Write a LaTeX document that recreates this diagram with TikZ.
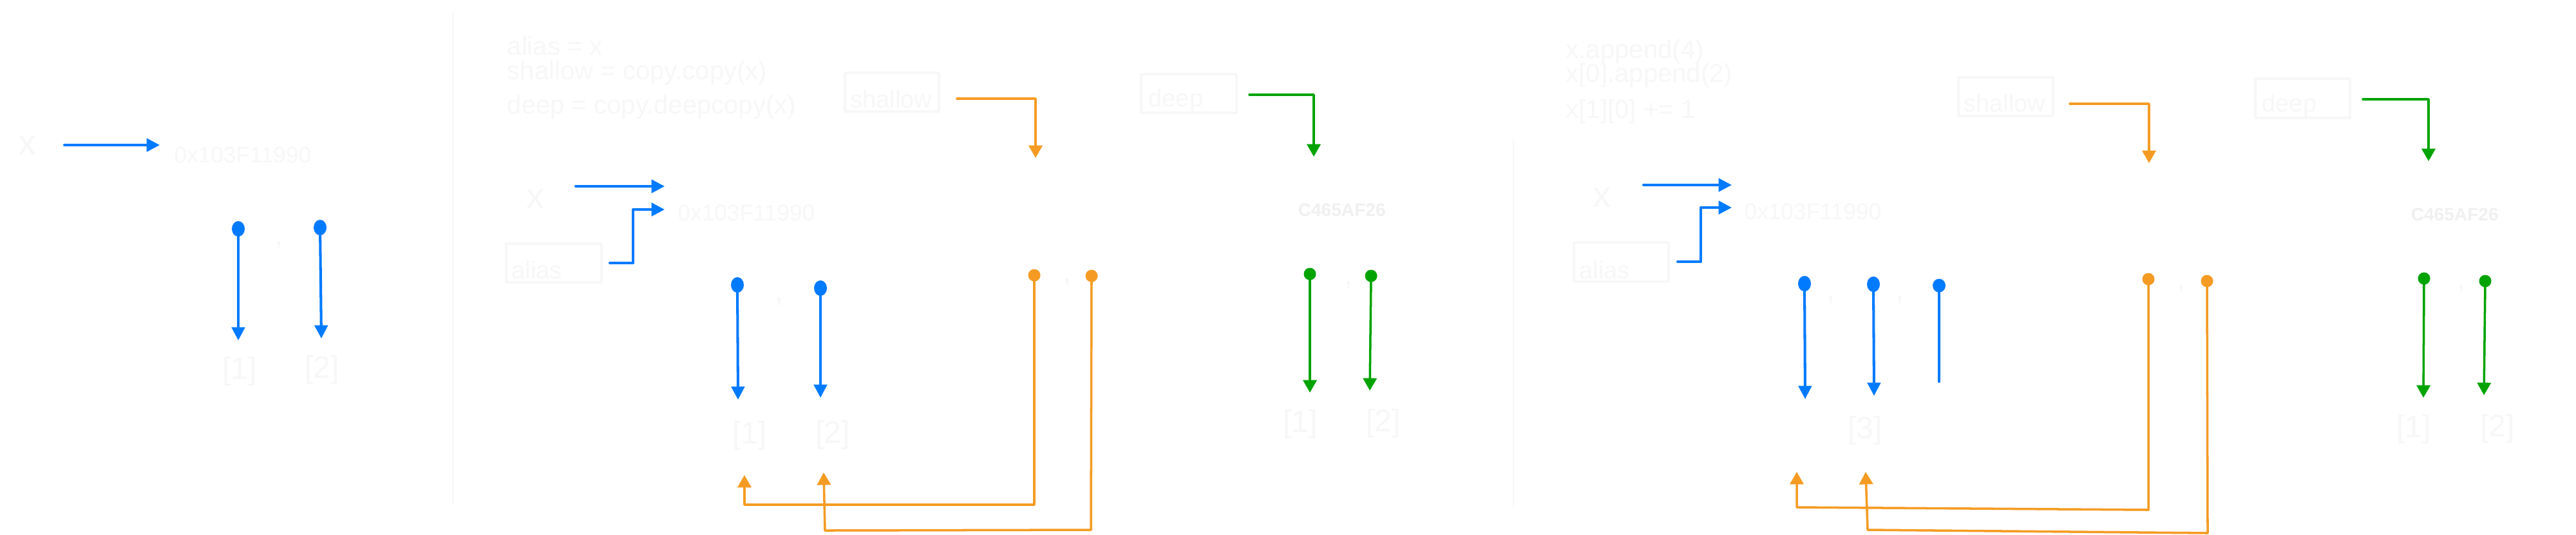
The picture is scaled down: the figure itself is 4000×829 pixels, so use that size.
\documentclass[tikz,border=0pt]{standalone}
\usepackage{fontspec}
\setmainfont{Liberation Sans}
\usetikzlibrary{arrows.meta,shapes.geometric}
\definecolor{cblue}{RGB}{0,122,255}
\definecolor{corange}{RGB}{245,155,35}
\definecolor{cgreen}{RGB}{0,163,0}
\definecolor{cfaint}{RGB}{247,247,247}
\definecolor{cfaint2}{RGB}{240,240,240}
\begin{document}
\begin{tikzpicture}[x=0.01cm,y=-0.01cm,line cap=round,line join=round,
  bline/.style={draw=cblue,line width=1.15pt},
  barrow/.style={bline,-{Triangle[length=5.8pt,width=5.8pt]}},
  oarrow/.style={draw=corange,line width=1pt,-{Triangle[length=5.5pt,width=6pt]}},
  garrow/.style={draw=cgreen,line width=1pt,-{Triangle[length=5.5pt,width=6pt]}},
  bdot/.style={ellipse,fill=cblue,inner sep=0pt,minimum width=0.2cm,minimum height=0.24cm},
  odot/.style={ellipse,fill=corange,inner sep=0pt,minimum width=0.19cm,minimum height=0.19cm},
  gdot/.style={ellipse,fill=cgreen,inner sep=0pt,minimum width=0.19cm,minimum height=0.19cm},
  code/.style={text=cfaint,font=\fontsize{11.4}{13}\selectfont,anchor=base west,inner sep=0pt},
  blbl/.style={text=cfaint,font=\fontsize{10.8}{12}\selectfont,anchor=base west,inner sep=0pt},
  fbox/.style={draw=cfaint,line width=1pt,rectangle,inner sep=0pt},
  xlbl/.style={text=cfaint,font=\fontsize{16}{18}\selectfont,inner sep=0pt},
  addr/.style={text=cfaint,font=\fontsize{10}{12}\selectfont,anchor=base west,inner sep=0pt},
  addrb/.style={text=cfaint2,font=\bfseries\fontsize{8}{10}\selectfont,anchor=base west,inner sep=0pt},
  brk/.style={text=cfaint,font=\fontsize{13.7}{15}\selectfont,inner sep=0pt},
  commalbl/.style={text=cfaint,font=\fontsize{13.7}{15}\selectfont,inner sep=0pt},
  sepline/.style={draw=cfaint,line width=0.8pt}]
\useasboundingbox (0,0) rectangle (4000,829);
\fill[white] (0,0) rectangle (4000,829);

% separators
\draw[sepline] (703,20) -- (703,780);
\draw[sepline] (2350,217) -- (2350,787);

% ---------------- left panel ----------------
\node[xlbl] (xL) at (43,226) {x};
\coordinate (xLs) at (100,225);
\coordinate (xLt) at (248,225);
\draw[barrow] (xLs) -- (xLt);
\node[addr] (aL) at (270,252) {0x103F11990};
\node[bdot] (dL1) at (370,355) {};
\node[bdot] (dL2) at (497,353) {};
\node[commalbl] (cL) at (433,380) {,};
\coordinate (tL1) at (370,528);
\coordinate (tL2) at (499,525);
\draw[barrow] (dL1.center) -- (tL1);
\draw[barrow] (dL2.center) -- (tL2);
\node[brk] (lL1) at (372,576) {[1]};
\node[brk] (lL2) at (500,574) {[2]};

% ---------------- middle panel ----------------
\node[code] (m1) at (787,85) {alias = x};
\node[code] (m2) at (787,123) {shallow = copy.copy(x)};
\node[code] (m3) at (787,176) {deep = copy.deepcopy(x)};

\node[fbox,minimum width=1.46cm,minimum height=0.60cm] (mSh) at (1385,143) {};
\node[blbl] (mShl) at (1320,167) {shallow};
\node[fbox,minimum width=1.48cm,minimum height=0.60cm] (mDp) at (1846,145) {};
\node[blbl] (mDpl) at (1783,165) {deep};
\node[fbox,minimum width=1.48cm,minimum height=0.60cm] (mAl) at (860,408) {};
\node[blbl] (mAll) at (794,432) {alias};

\node[xlbl] (xM) at (832,309) {x};
\coordinate (xMs) at (894,289);
\coordinate (xMt) at (1032,289);
\draw[barrow] (xMs) -- (xMt);
\coordinate (aMs) at (947,408);
\coordinate (aMc) at (983,325);
\coordinate (aMt) at (1032,325);
\draw[barrow] (aMs) -| (aMc) -- (aMt);
\node[addr] (adM) at (1052,342) {0x103F11990};

\node[bdot] (dM1) at (1145,442) {};
\node[bdot] (dM2) at (1274,447) {};
\node[commalbl] (cM) at (1210,468) {,};
\coordinate (tM1) at (1146,620);
\coordinate (tM2) at (1274,617);
\draw[barrow] (dM1.center) -- (tM1);
\draw[barrow] (dM2.center) -- (tM2);
\node[brk] (lM1) at (1164,676) {[1]};
\node[brk] (lM2) at (1293,675) {[2]};

% shallow pointer
\coordinate (oMs) at (1486,153);
\coordinate (oMt) at (1608,245);
\draw[oarrow] (oMs) -| (oMt);
% deep pointer
\coordinate (gMs) at (1940,147);
\coordinate (gMt) at (2040,243);
\draw[garrow] (gMs) -| (gMt);
\node[addrb] (adM2) at (2015,335) {C465AF26};

% shallow list elements
\node[odot] (oM1) at (1606,427) {};
\node[odot] (oM2) at (1695,428) {};
\node[commalbl] (coM) at (1657,438) {,};
\coordinate (oM1a) at (1606,783);
\coordinate (oM1b) at (1156,783);
\coordinate (oM1t) at (1156,737);
\draw[oarrow] (oM1.center) -- (oM1a) -- (oM1b) -- (oM1t);
\coordinate (oM2a) at (1694,822);
\coordinate (oM2b) at (1281,823);
\coordinate (oM2t) at (1279,733);
\draw[oarrow] (oM2.center) -- (oM2a) -- (oM2b) -- (oM2t);

% deep list elements
\node[gdot] (gM1) at (2034,425) {};
\node[gdot] (gM2) at (2129,428) {};
\node[commalbl] (cgM) at (2094,442) {,};
\coordinate (gM1t) at (2034,609);
\coordinate (gM2t) at (2127,606);
\draw[garrow] (gM1.center) -- (gM1t);
\draw[garrow] (gM2.center) -- (gM2t);
\node[brk] (lG1) at (2019,658) {[1]};
\node[brk] (lG2) at (2148,657) {[2]};

% ---------------- right panel ----------------
\node[code] (r1) at (2431,90) {x.append(4)};
\node[code] (r2) at (2431,127) {x[0].append(2)};
\node[code] (r3) at (2431,183) {x[1][0] += 1};

\node[fbox,minimum width=1.47cm,minimum height=0.60cm] (rSh) at (3114.5,150) {};
\node[blbl] (rShl) at (3049,173) {shallow};
\node[fbox,minimum width=1.47cm,minimum height=0.61cm] (rDp) at (3575.5,152.5) {};
\node[blbl] (rDpl) at (3512,173) {deep};
\node[fbox,minimum width=1.47cm,minimum height=0.61cm] (rAl) at (2517.5,406.5) {};
\node[blbl] (rAll) at (2452,432) {alias};

\node[xlbl] (xR) at (2488,307) {x};
\coordinate (xRs) at (2552,287);
\coordinate (xRt) at (2689,287);
\draw[barrow] (xRs) -- (xRt);
\coordinate (aRs) at (2605,406);
\coordinate (aRc) at (2641,322);
\coordinate (aRt) at (2689,322);
\draw[barrow] (aRs) -| (aRc) -- (aRt);
\node[addr] (adR) at (2708,340) {0x103F11990};

\node[bdot] (dR1) at (2802,440) {};
\node[bdot] (dR2) at (2909,441) {};
\node[bdot,minimum height=0.21cm] (dR3) at (3011,443) {};
\node[commalbl] (cR1) at (2843,465) {,};
\node[commalbl] (cR2) at (2950,465) {,};
\coordinate (tR1) at (2803,619);
\coordinate (tR2) at (2910,614);
\coordinate (tR3) at (3011,592);
\draw[barrow] (dR1.center) -- (tR1);
\draw[barrow] (dR2.center) -- (tR2);
\draw[bline] (dR3.center) -- (tR3);
\node[brk] (lR3) at (2896,668) {[3]};

\coordinate (oRs) at (3214,161);
\coordinate (oRt) at (3337,253);
\draw[oarrow] (oRs) -| (oRt);
\coordinate (gRs) at (3669,154);
\coordinate (gRt) at (3771,250);
\draw[garrow] (gRs) -| (gRt);
\node[addrb] (adR2) at (3743,342) {C465AF26};

\node[odot] (oR1) at (3336,433) {};
\node[odot] (oR2) at (3427,436) {};
\node[commalbl] (coR) at (3387,448) {,};
\coordinate (oR1a) at (3336,791);
\coordinate (oR1b) at (2790,787);
\coordinate (oR1t) at (2790,732);
\draw[oarrow] (oR1.center) -- (oR1a) -- (oR1b) -- (oR1t);
\coordinate (oR2a) at (3428,827);
\coordinate (oR2b) at (2900,822);
\coordinate (oR2t) at (2897,732);
\draw[oarrow] (oR2.center) -- (oR2a) -- (oR2b) -- (oR2t);

\node[gdot] (gR1) at (3764,432) {};
\node[gdot] (gR2) at (3859,436) {};
\node[commalbl] (cgR) at (3822,448) {,};
\coordinate (gR1t) at (3763,617);
\coordinate (gR2t) at (3857,613);
\draw[garrow] (gR1.center) -- (gR1t);
\draw[garrow] (gR2.center) -- (gR2t);
\node[brk] (lRG1) at (3748,666) {[1]};
\node[brk] (lRG2) at (3878,665) {[2]};
\end{tikzpicture}
\end{document}
